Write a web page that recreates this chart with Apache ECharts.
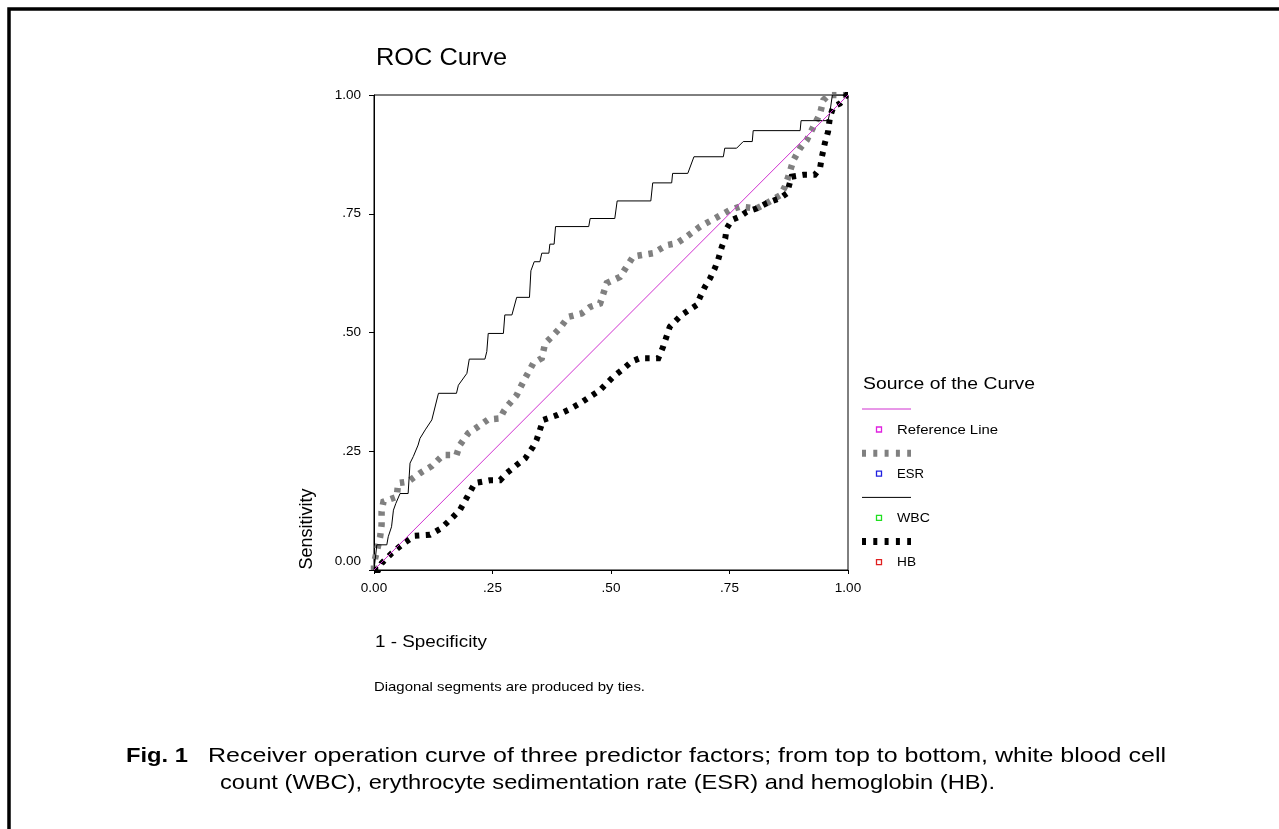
<!DOCTYPE html>
<html>
    <head>
        <meta charset="utf-8">
        <title>ROC Curve</title>
        <style>
            html, body { margin: 0; padding: 0; background: #fff; }
            #chart1 { width: 1279px; height: 829px; }
        </style>
    </head>
    <body>
        <div id="chart1"></div>

        <script src="https://cdn.jsdelivr.net/npm/echarts@6/dist/echarts.min.js"></script>
        <script type="text/javascript">
            // tick values and their SPSS-style labels
            var ticks = [0, 0.25, 0.5, 0.75, 1];
            var tickLabels = ['0.00', '.25', '.50', '.75', '1.00'];

            // curve points: [1 - specificity, sensitivity]
            var refLine = [[0, 0], [1, 1]];
            var esr = [
                [0, 0], [0, 0.014], [0.013, 0.070], [0.016, 0.095], [0.016, 0.123], [0.020, 0.144],
                [0.048, 0.154], [0.051, 0.183], [0.072, 0.186], [0.097, 0.204], [0.122, 0.219],
                [0.146, 0.242], [0.174, 0.242], [0.181, 0.263], [0.199, 0.288], [0.220, 0.302],
                [0.241, 0.317], [0.266, 0.319], [0.273, 0.333], [0.283, 0.347], [0.301, 0.368],
                [0.308, 0.383], [0.319, 0.404], [0.336, 0.435], [0.354, 0.446], [0.361, 0.477],
                [0.375, 0.491], [0.392, 0.509], [0.410, 0.533], [0.438, 0.540], [0.456, 0.554],
                [0.477, 0.561], [0.491, 0.604], [0.519, 0.617], [0.547, 0.660], [0.589, 0.667],
                [0.618, 0.684], [0.639, 0.688], [0.660, 0.702], [0.688, 0.723], [0.719, 0.740],
                [0.751, 0.758], [0.772, 0.765], [0.807, 0.761], [0.828, 0.772], [0.857, 0.789],
                [0.867, 0.807], [0.874, 0.828], [0.885, 0.863], [0.899, 0.888], [0.913, 0.905],
                [0.927, 0.933], [0.941, 0.961], [0.948, 0.989], [0.959, 1], [1, 1]
            ];
            var wbc = [
                [0, 0], [0.006, 0.053], [0.027, 0.053], [0.030, 0.070], [0.037, 0.091], [0.041, 0.126],
                [0.046, 0.140], [0.055, 0.161], [0.072, 0.161], [0.076, 0.225], [0.083, 0.239],
                [0.093, 0.263], [0.097, 0.277], [0.108, 0.295], [0.122, 0.316], [0.136, 0.372],
                [0.174, 0.372], [0.178, 0.389], [0.196, 0.414], [0.201, 0.444], [0.234, 0.444],
                [0.238, 0.460], [0.241, 0.498], [0.273, 0.498], [0.276, 0.537], [0.291, 0.537],
                [0.301, 0.574], [0.328, 0.574], [0.331, 0.630], [0.338, 0.649], [0.350, 0.649],
                [0.354, 0.667], [0.369, 0.667], [0.371, 0.686], [0.380, 0.686], [0.383, 0.723],
                [0.453, 0.723], [0.456, 0.740], [0.508, 0.740], [0.513, 0.777], [0.584, 0.777],
                [0.588, 0.815], [0.628, 0.815], [0.630, 0.835], [0.662, 0.835], [0.675, 0.870],
                [0.737, 0.870], [0.740, 0.888], [0.765, 0.888], [0.779, 0.902], [0.798, 0.902],
                [0.800, 0.925], [0.899, 0.925], [0.901, 0.946], [0.958, 0.946], [0.962, 0.965],
                [0.967, 1], [1, 1]
            ];
            var hb = [
                [0, 0], [0.009, 0], [0.016, 0.014], [0.037, 0.035], [0.062, 0.056], [0.086, 0.072],
                [0.118, 0.074], [0.139, 0.086], [0.160, 0.105], [0.181, 0.126], [0.213, 0.183],
                [0.245, 0.189], [0.266, 0.189], [0.280, 0.204], [0.301, 0.221], [0.319, 0.235],
                [0.336, 0.260], [0.343, 0.274], [0.357, 0.316], [0.386, 0.326], [0.410, 0.337],
                [0.435, 0.351], [0.456, 0.365], [0.477, 0.379], [0.505, 0.407], [0.523, 0.421],
                [0.544, 0.439], [0.561, 0.446], [0.600, 0.446], [0.610, 0.470], [0.617, 0.491],
                [0.624, 0.512], [0.649, 0.537], [0.681, 0.558], [0.688, 0.575], [0.698, 0.596],
                [0.709, 0.614], [0.719, 0.635], [0.726, 0.653], [0.734, 0.681], [0.741, 0.698],
                [0.744, 0.719], [0.755, 0.737], [0.772, 0.744], [0.786, 0.754], [0.807, 0.761],
                [0.828, 0.772], [0.857, 0.783], [0.871, 0.793], [0.881, 0.828], [0.906, 0.832],
                [0.930, 0.832], [0.941, 0.846], [0.945, 0.870], [0.951, 0.898], [0.958, 0.923],
                [0.962, 0.954], [0.969, 0.975], [0.983, 0.982], [0.989, 0.989], [0.997, 1], [1, 1]
            ];

            // legend entries and the colour of their little square markers
            var legendNames = ['Reference Line', 'ESR', 'WBC', 'HB'];
            var legendMarkers = ['#e020e0', '#2020e0', '#20e020', '#e02020'];
            var legendWidths = [101, 27, 33, 19];

            var font = 'Liberation Sans, Arial, sans-serif';
            var styles = {
                'Reference Line': { color: '#d030d0', width: 1, type: 'solid' },
                'ESR': { color: '#808080', width: 6.5, type: [4.5, 6.5] },
                'WBC': { color: '#000000', width: 1, type: 'solid' },
                'HB': { color: '#000000', width: 6, type: [4.5, 6.5] }
            };
            var curveData = { 'Reference Line': refLine, 'ESR': esr, 'WBC': wbc, 'HB': hb };
            var drawOrder = ['ESR', 'WBC', 'HB', 'Reference Line'];

            function tickFmt(v) {
                var i = ticks.indexOf(v);
                return i < 0 ? '' : tickLabels[i];
            }

            // the scan is a bit wider than the fonts we have, so stretch text to the measured width
            var ctx = document.createElement('canvas').getContext('2d');
            function fitText(text, f, x, y, w, extra) {
                ctx.font = f;
                var sx = w / ctx.measureText(text).width;
                var el = { type: 'text', x: x, y: y, scaleX: sx,
                    style: { text: text, font: f, fill: '#000', verticalAlign: 'middle' } };
                return Object.assign(el, extra || {});
            }

            var graphics = [
                // page frame
                { type: 'rect', shape: { x: 9, y: 9, width: 1300, height: 900 },
                  style: { fill: 'none', stroke: '#000', lineWidth: 3.5 }, silent: true },
                fitText('ROC Curve', '23px ' + font, 376, 58.5, 131),
                { type: 'text', x: 307, y: 529, rotation: Math.PI / 2,
                  style: { text: 'Sensitivity', font: '18px ' + font, fill: '#000', align: 'center', verticalAlign: 'middle' } },
                fitText('1 - Specificity', '17px ' + font, 375, 642, 112),
                fitText('Diagonal segments are produced by ties.', '13px ' + font, 374, 687, 271),
                fitText('Source of the Curve', '17px ' + font, 863, 384, 172),
                fitText('Fig. 1', 'bold 21px ' + font, 126, 756, 62),
                fitText('Receiver operation curve of three predictor factors; from top to bottom, white blood cell', '21px ' + font, 208, 756, 958),
                fitText('count (WBC), erythrocyte sedimentation rate (ESR) and hemoglobin (HB).', '21px ' + font, 220, 783, 775)
            ];

            // legend block: a line sample, then a small square and the name
            legendNames.forEach(function (name, i) {
                var y0 = 409 + i * 44.2;
                var s = styles[name];
                graphics.push({ type: 'line', shape: { x1: 862, y1: y0, x2: 911, y2: y0 },
                    style: { stroke: s.color, lineWidth: s.width === 1 ? 1 : 7, lineDash: s.type === 'solid' ? null : [4, 7.3] } });
                graphics.push({ type: 'rect', shape: { x: 876.5, y: y0 + 18, width: 5, height: 5 },
                    style: { fill: '#fff', stroke: legendMarkers[i], lineWidth: 1.3 } });
                graphics.push(fitText(name, '13.5px ' + font, 897, y0 + 21, legendWidths[i]));
            });

            var myChart1 = echarts.init(document.getElementById('chart1'));
            myChart1.setOption({
                animation: false,
                backgroundColor: '#fff',
                grid: {
                    left: 374, top: 95, width: 474, height: 475,
                    show: true, borderColor: '#000', borderWidth: 1, backgroundColor: 'transparent'
                },
                xAxis: {
                    type: 'value', min: 0, max: 1, interval: 0.25,
                    axisLine: { lineStyle: { color: '#000', width: 1 } },
                    axisTick: { show: true, length: 4, lineStyle: { color: '#000' } },
                    splitLine: { show: false },
                    axisLabel: { formatter: tickFmt, fontFamily: font, fontSize: 13.5, color: '#000', margin: 11 }
                },
                yAxis: {
                    type: 'value', min: 0, max: 1, interval: 0.25,
                    axisLine: { show: true, lineStyle: { color: '#000', width: 1 } },
                    axisTick: { show: true, length: 5, lineStyle: { color: '#000' } },
                    splitLine: { show: false },
                    axisLabel: {
                        formatter: function (v) { return v === 0 ? '{z|0.00}' : tickFmt(v); },
                        fontFamily: font, fontSize: 13.5, color: '#000', margin: 13,
                        rich: { z: { fontFamily: font, fontSize: 13.5, color: '#000', padding: [0, 0, 17, 0] } }
                    }
                },
                graphic: graphics,
                series: drawOrder.map(function (name) {
                    var s = styles[name];
                    return {
                        name: name,
                        type: 'line',
                        data: curveData[name],
                        showSymbol: false,
                        silent: true,
                        lineStyle: { color: s.color, width: s.width, type: s.type, cap: 'butt', join: 'miter' }
                    };
                })
            });
        </script>
    </body>
</html>
